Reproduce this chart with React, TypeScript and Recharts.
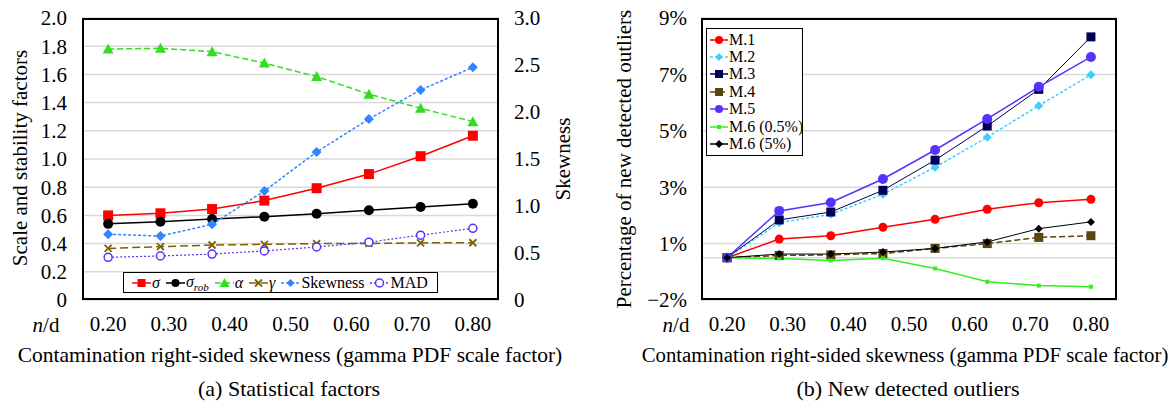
import React from "react";
import {
  LineChart,
  Line,
  XAxis,
  YAxis,
  CartesianGrid,
  ReferenceLine,
} from "recharts";

// x positions of the 8 contamination steps, labelled on a 0.20–0.80 axis
const xPos = [0.2, 0.286, 0.371, 0.457, 0.543, 0.629, 0.714, 0.8];
const xTicks = [0.2, 0.3, 0.4, 0.5, 0.6, 0.7, 0.8];

// (a) statistical factors
const sigma = [0.6, 0.615, 0.645, 0.705, 0.793, 0.893, 1.02, 1.165];
const sigmaRob = [0.54, 0.555, 0.574, 0.591, 0.612, 0.636, 0.66, 0.683];
const alpha = [1.78, 1.785, 1.761, 1.68, 1.585, 1.46, 1.36, 1.265];
const gamma = [0.366, 0.378, 0.39, 0.395, 0.4, 0.401, 0.405, 0.406];
const skewness = [0.7, 0.68, 0.805, 1.16, 1.575, 1.925, 2.235, 2.475];
const mad = [0.303, 0.312, 0.326, 0.348, 0.376, 0.41, 0.46, 0.508];
const leftTicks = [0, 0.2, 0.4, 0.6, 0.8, 1.0, 1.2, 1.4, 1.6, 1.8, 2.0];
const skewTicks = [0, 0.5, 1.0, 1.5, 2.0, 2.5, 3.0];

// (b) new detected outliers, in %
const m1 = [0.5, 1.16, 1.28, 1.58, 1.86, 2.22, 2.45, 2.57];
const m2 = [0.5, 1.74, 2.04, 2.75, 3.71, 4.77, 5.89, 6.99];
const m3 = [0.5, 1.84, 2.12, 2.89, 3.96, 5.17, 6.47, 8.33];
const m4 = [0.5, 0.58, 0.6, 0.65, 0.83, 1.0, 1.22, 1.28];
const m5 = [0.5, 2.16, 2.46, 3.29, 4.32, 5.42, 6.56, 7.62];
const m6a = [0.5, 0.47, 0.4, 0.48, 0.12, -0.35, -0.49, -0.53];
const m6b = [0.5, 0.63, 0.63, 0.7, 0.83, 1.06, 1.53, 1.77];
const pctTicks = [-1, 1, 3, 5, 7, 9];
const pctLabels = ["\u22122%", "1%", "3%", "5%", "7%", "9%"];

const dataA = xPos.map((x, i) => ({
  x,
  sigma: sigma[i],
  sigmaRob: sigmaRob[i],
  alpha: alpha[i],
  gamma: gamma[i],
  skewness: skewness[i],
  mad: mad[i],
}));

const dataB = xPos.map((x, i) => ({
  x,
  m1: m1[i],
  m2: m2[i],
  m3: m3[i],
  m4: m4[i],
  m5: m5[i],
  m6a: m6a[i],
  m6b: m6b[i],
}));

const FONT = "Liberation Serif, DejaVu Serif, serif";

type Shape = "square" | "circle" | "ocircle" | "triangle" | "diamond" | "x" | "tiny";

function Marker({ shape, x, y, color, size }: { shape: Shape; x: number; y: number; color: string; size: number }) {
  const h = size / 2;
  switch (shape) {
    case "square":
    case "tiny":
      return <rect x={x - h} y={y - h} width={size} height={size} fill={color} />;
    case "circle":
      return <circle cx={x} cy={y} r={h} fill={color} />;
    case "ocircle":
      return <circle cx={x} cy={y} r={h} fill="#fff" stroke={color} strokeWidth={1.5} />;
    case "triangle":
      return <polygon points={`${x},${y - h - 1} ${x + h + 1},${y + h} ${x - h - 1},${y + h}`} fill={color} />;
    case "diamond":
      return <polygon points={`${x},${y - h} ${x + h},${y} ${x},${y + h} ${x - h},${y}`} fill={color} />;
    case "x":
      return (
        <g stroke={color} strokeWidth={1.8}>
          <line x1={x - h} y1={y - h} x2={x + h} y2={y + h} />
          <line x1={x - h} y1={y + h} x2={x + h} y2={y - h} />
        </g>
      );
  }
  return null;
}

const dotFor = (shape: Shape, color: string, size: number) => (p: any) =>
  <Marker key={`m${p.index}`} shape={shape} x={p.cx} y={p.cy} color={color} size={size} />;

type Series = {
  key: string;
  label: React.ReactNode;
  color: string;
  shape: Shape;
  size: number;
  dash?: string;
  width: number;
  axis?: string;
};

const seriesA: Series[] = [
  { key: "sigma", label: <i>σ</i>, color: "#ff0000", shape: "square", size: 10, width: 1.5 },
  {
    key: "sigmaRob",
    label: (
      <span>
        <i>σ</i>
        <i style={{ fontSize: 11, position: "relative", top: 4 }}>rob</i>
      </span>
    ),
    color: "#000000",
    shape: "circle",
    size: 10,
    width: 1.5,
  },
  { key: "alpha", label: <i>α</i>, color: "#33dd22", shape: "triangle", size: 9, dash: "6 3", width: 1.5 },
  { key: "gamma", label: <i>γ</i>, color: "#806000", shape: "x", size: 7, dash: "8 4", width: 1.5 },
  { key: "skewness", label: "Skewness", color: "#3385ff", shape: "diamond", size: 10, dash: "3 2", width: 1.5, axis: "right" },
  { key: "mad", label: "MAD", color: "#5533ff", shape: "ocircle", size: 8, dash: "2 2", width: 1.2 },
];

const seriesB: Series[] = [
  { key: "m1", label: "M.1", color: "#ff0000", shape: "circle", size: 9, width: 1.5 },
  { key: "m2", label: "M.2", color: "#44ccff", shape: "diamond", size: 9, dash: "3 2", width: 1.5 },
  { key: "m3", label: "M.3", color: "#000055", shape: "square", size: 9, width: 1 },
  { key: "m4", label: "M.4", color: "#5a4410", shape: "square", size: 9, dash: "6 3", width: 1.5 },
  { key: "m5", label: "M.5", color: "#5533ff", shape: "circle", size: 10, width: 1.5 },
  { key: "m6a", label: "M.6 (0.5%)", color: "#33ee22", shape: "tiny", size: 4, width: 1.5 },
  { key: "m6b", label: "M.6 (5%)", color: "#000000", shape: "diamond", size: 8, width: 1 },
];

function Icon({ s, w = 20 }: { s: Series; w?: number }) {
  return (
    <svg width={w} height={12} style={{ display: "block", flex: "none" }}>
      <line x1={0} y1={6} x2={w} y2={6} stroke={s.color} strokeWidth={1.5} strokeDasharray={s.dash} />
      <Marker shape={s.shape} x={w / 2} y={6} color={s.color} size={Math.min(s.size, 8)} />
    </svg>
  );
}

const tickStyle = { fill: "#000", fontSize: 21, fontFamily: FONT };

const fmtLeft = (v: number) => (v === 0 ? "0" : v.toFixed(1));
const fmtPct = (v: number) => pctLabels[pctTicks.indexOf(v)] ?? "";

const border: React.CSSProperties = {
  position: "absolute",
  border: "2px solid #000",
  boxSizing: "border-box",
  pointerEvents: "none",
};

const vText = (cx: number, cy: number, text: React.ReactNode): React.ReactNode => (
  <div
    style={{
      position: "absolute",
      left: cx,
      top: cy,
      transform: "translate(-50%, -50%) rotate(-90deg)",
      whiteSpace: "nowrap",
      fontSize: 21,
    }}
  >
    {text}
  </div>
);

const hText = (cx: number, cy: number, text: React.ReactNode, size = 21): React.ReactNode => (
  <div
    style={{
      position: "absolute",
      left: cx,
      top: cy,
      transform: "translate(-50%, -50%)",
      whiteSpace: "nowrap",
      fontSize: size,
    }}
  >
    {text}
  </div>
);

export default function App() {
  return (
    <div
      style={{
        position: "absolute",
        left: 0,
        top: 0,
        width: 1171,
        height: 405,
        background: "#fff",
        fontFamily: FONT,
        color: "#000",
        overflow: "hidden",
      }}
    >
      {/* (a) */}
      <div style={{ position: "absolute", left: 0, top: 0 }}>
        <LineChart width={600} height={340} data={dataA} margin={{ top: 18, right: 0, bottom: 0, left: 0 }}>
          <CartesianGrid vertical={false} stroke="#d9d9d9" strokeWidth={1.5} />
          <XAxis
            dataKey="x"
            type="number"
            domain={[0.157, 0.843]}
            ticks={xTicks}
            interval={0}
            tickFormatter={(v: number) => v.toFixed(2)}
            tick={tickStyle}
            tickLine={false}
            axisLine={false}
            tickSize={0}
            tickMargin={16}
            height={40}
          />
          <YAxis
            domain={[0, 2]}
            ticks={leftTicks}
            interval={0}
            tickFormatter={fmtLeft}
            tick={tickStyle}
            tickLine={false}
            axisLine={false}
            tickSize={0}
            tickMargin={15}
            width={82}
          />
          <YAxis
            yAxisId="right"
            orientation="right"
            domain={[0, 3]}
            ticks={skewTicks}
            interval={0}
            tickFormatter={fmtLeft}
            tick={tickStyle}
            tickLine={false}
            axisLine={false}
            tickSize={0}
            tickMargin={15}
            width={101}
          />
          {seriesA.map((s) => (
            <Line
              key={s.key}
              dataKey={s.key}
              yAxisId={s.axis ?? 0}
              type="linear"
              stroke={s.color}
              strokeWidth={s.width}
              strokeDasharray={s.dash}
              dot={dotFor(s.shape, s.color, s.size)}
              activeDot={false}
              isAnimationActive={false}
            />
          ))}
        </LineChart>
        <div style={{ ...border, left: 82, top: 18, width: 417, height: 282 }} />
        <div
          style={{
            position: "absolute",
            left: 123,
            top: 272,
            width: 315,
            height: 21,
            border: "1.5px solid #000",
            boxSizing: "border-box",
            background: "#fff",
            display: "flex",
            alignItems: "center",
            gap: 6,
            paddingLeft: 8,
            fontSize: 16,
            whiteSpace: "nowrap",
          }}
        >
          {seriesA.map((s) => (
            <div key={s.key} style={{ display: "flex", alignItems: "center", gap: 1 }}>
              <Icon s={s} w={19} />
              <span style={{ lineHeight: "16px" }}>{s.label}</span>
            </div>
          ))}
        </div>
      </div>
      {vText(20, 158, "Scale and stability factors")}
      {vText(563, 159, "Skewness")}
      {hText(46, 325, <span><i>n</i>/d</span>)}
      {hText(290, 355, "Contamination right-sided skewness (gamma PDF scale factor)", 21.5)}
      {hText(289, 389, "(a) Statistical factors", 22)}

      {/* (b) */}
      <div style={{ position: "absolute", left: 600, top: 0 }}>
        <LineChart width={571} height={340} data={dataB} margin={{ top: 18, right: 54, bottom: 0, left: 0 }}>
          <CartesianGrid vertical={false} stroke="#d9d9d9" strokeWidth={1.5} />
          <ReferenceLine y={0.5} stroke="#d9d9d9" strokeWidth={1.5} />
          <XAxis
            dataKey="x"
            type="number"
            domain={[0.157, 0.843]}
            ticks={xTicks}
            interval={0}
            tickFormatter={(v: number) => v.toFixed(2)}
            tick={tickStyle}
            tickLine={false}
            axisLine={false}
            tickSize={0}
            tickMargin={16}
            height={40}
          />
          <YAxis
            domain={[-1, 9]}
            ticks={pctTicks}
            interval={0}
            tickFormatter={fmtPct}
            tick={tickStyle}
            tickLine={false}
            axisLine={false}
            tickSize={0}
            tickMargin={14}
            width={101}
          />
          {seriesB.map((s) => (
            <Line
              key={s.key}
              dataKey={s.key}
              type="linear"
              stroke={s.color}
              strokeWidth={s.width}
              strokeDasharray={s.dash}
              dot={dotFor(s.shape, s.color, s.size)}
              activeDot={false}
              isAnimationActive={false}
            />
          ))}
        </LineChart>
        <div style={{ ...border, left: 101, top: 18, width: 416, height: 282 }} />
        <div
          style={{
            position: "absolute",
            left: 106,
            top: 28,
            width: 97,
            height: 128,
            border: "1.5px solid #000",
            boxSizing: "border-box",
            background: "#fff",
            paddingTop: 2,
            paddingLeft: 3,
            fontSize: 16,
            whiteSpace: "nowrap",
          }}
        >
          {seriesB.map((s) => (
            <div key={s.key} style={{ display: "flex", alignItems: "center", height: 17.4, gap: 1 }}>
              <Icon s={s} w={18} />
              <span style={{ lineHeight: "16px" }}>{s.label}</span>
            </div>
          ))}
        </div>
      </div>
      {vText(624, 159, "Percentage of new detected outliers")}
      {hText(676, 325, <span><i>n</i>/d</span>)}
      {hText(905, 355, "Contamination right-sided skewness (gamma PDF scale factor)", 20.8)}
      {hText(908, 389, "(b) New detected outliers", 22)}
    </div>
  );
}
